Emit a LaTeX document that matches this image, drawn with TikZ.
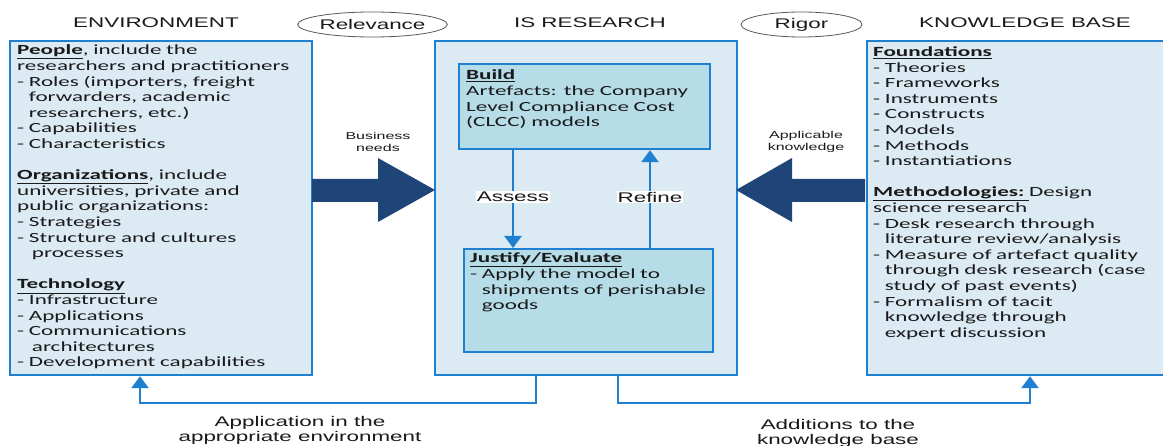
\documentclass[tikz,border=0pt]{standalone}
\usepackage{fontspec}
\usetikzlibrary{arrows.meta,shapes.geometric}
\newfontfamily\bodyfont[FakeStretch=1.65]{Carlito}
\newfontfamily\headfont[FakeStretch=1.6]{Liberation Sans}
\definecolor{outerfill}{HTML}{DBEAF3}
\definecolor{innerfill}{HTML}{B5DCE7}
\definecolor{linecol}{HTML}{1F7FD0}
\definecolor{navy}{HTML}{1F4578}
\definecolor{txt}{HTML}{1A1A1A}
\begin{document}
\begin{tikzpicture}[x=1pt,y=-1pt,
  outerbox/.style={draw=linecol, line width=2.2pt, fill=outerfill, anchor=north west, inner sep=0pt},
  innerbox/.style={draw=linecol, line width=2.2pt, fill=innerfill, anchor=north west, inner sep=0pt},
  body/.style={font=\bodyfont\fontsize{14}{15.6}\selectfont, text=txt, anchor=base west, inner sep=0pt, align=left, text width=#1},
  head/.style={font=\headfont\fontsize{14}{16}\selectfont, text=txt, inner sep=0pt},
  small/.style={font=\headfont\fontsize{10}{12}\selectfont, text=txt, align=center, inner sep=0pt},
  label/.style={font=\headfont\fontsize{14}{15}\selectfont, text=txt, align=center, inner sep=0pt},
  conn/.style={draw=linecol, line width=2.5pt},
  conntip/.style={-{Triangle[width=17pt,length=12pt]}},
  bigarrow/.style={fill=navy},
  oval/.style={ellipse, draw=black!65, line width=0.8pt, minimum width=121pt, minimum height=25pt, inner sep=0pt, font=\headfont\fontsize{14}{16}\selectfont, text=txt}
]
\fill[white] (0,0) rectangle (1163,446);
\useasboundingbox (0,0) rectangle (1163,446);

% headings
\node[head] (hEnv) at (156,23) {ENVIRONMENT};
\node[head] (hIS) at (590,23) {IS RESEARCH};
\node[head] (hKB) at (1025,23) {KNOWLEDGE BASE};
\node[oval] (relevance) at (372.5,24.5) {Relevance};
\node[oval] (rigor) at (801.5,24.5) {Rigor};

% main boxes
\node[outerbox, minimum width=302pt, minimum height=334pt] (env) at (9,40) {};
\node[outerbox, minimum width=302pt, minimum height=334pt] (isr) at (434,40) {};
\node[outerbox, minimum width=310pt, minimum height=334pt] (kb) at (866,40) {};
\node[innerbox, minimum width=251pt, minimum height=85pt] (build) at (458,63) {};
\node[innerbox, minimum width=249pt, minimum height=103pt] (just) at (463,248) {};

% box texts
\node[body=290pt] (envtext) at (17,55) {%
\underline{\textbf{People}}, include the\\
researchers and practitioners\\
- Roles (importers, freight\\
\phantom{- }forwarders, academic\\
\phantom{- }researchers, etc.)\\
- Capabilities\\
- Characteristics\\[15.6pt]
\underline{\textbf{Organizations}}, include\\
universities, private and\\
public organizations:\\
- Strategies\\
- Structure and cultures\\
\phantom{- }\hspace{3pt}processes\\[15.6pt]
\underline{\textbf{Technology}}\\
- Infrastructure\\
- Applications\\
- Communications\\
\phantom{- }\hspace{3pt}architectures\\
- Development capabilities};

\node[body=285pt] (kbtext) at (873,56.5) {%
\underline{\textbf{Foundations}}\\
- Theories\\
- Frameworks\\
- Instruments\\
- Constructs\\
- Models\\
- Methods\\
- Instantiations\\[15.6pt]
\underline{\textbf{Methodologies:}\ }Design\\
science research\\
- Desk research through\\
\phantom{- }literature review/analysis\\
- Measure of artefact quality\\
\phantom{- }through desk research (case\\
\phantom{- }study of past events)\\
- Formalism of tacit\\
\phantom{- }knowledge through\\
\phantom{- }expert discussion};

\node[body=240pt] (buildtext) at (466,80) {%
\underline{\textbf{Build}}\\
Artefacts: the Company\\
Level Compliance Cost\\
(CLCC) models};

\node[body=240pt] (justtext) at (470,263) {%
\underline{\textbf{Justify/Evaluate}}\\
- Apply the model to\\
\phantom{- }shipments of perishable\\
\phantom{- }goods};

% big arrows
\fill[bigarrow] (312,179) -- (378,179) -- (378,158) -- (435,190) -- (378,222) -- (378,202) -- (312,202) -- cycle;
\fill[bigarrow] (865,179) -- (792,179) -- (792,158) -- (736,190) -- (792,222) -- (792,202) -- (865,202) -- cycle;
\node[small] (bneeds) at (378,142) {Business\\needs};
\node[small] (aknow) at (806,142) {Applicable\\knowledge};

% assess / refine
\coordinate (ax) at (513,0);
\coordinate (rx) at (650,0);
\draw[conn,conntip] (build.south -| ax) -- (just.north -| ax);
\draw[conn,conntip] (just.north -| rx) -- (build.south -| rx);
\node[label, fill=white, inner sep=1pt] (assess) at (513,197) {Assess};
\node[label, fill=white, inner sep=1pt] (refine) at (650,197) {Refine};

% bottom connectors
\coordinate (bl1) at (536,403);
\coordinate (bl2) at (140,403);
\coordinate (br1) at (618,403);
\coordinate (br2) at (1030,403);
\draw[conn,conntip] (bl1 |- isr.south) -- (bl1) -- (bl2) -- (bl2 |- env.south);
\draw[conn,conntip] (br1 |- isr.south) -- (br1) -- (br2) -- (br2 |- kb.south);
\node[label] (applab) at (300,430) {Application in the\\appropriate environment};
\node[label] (addlab) at (838,433) {Additions to the\\knowledge base};
\end{tikzpicture}
\end{document}
